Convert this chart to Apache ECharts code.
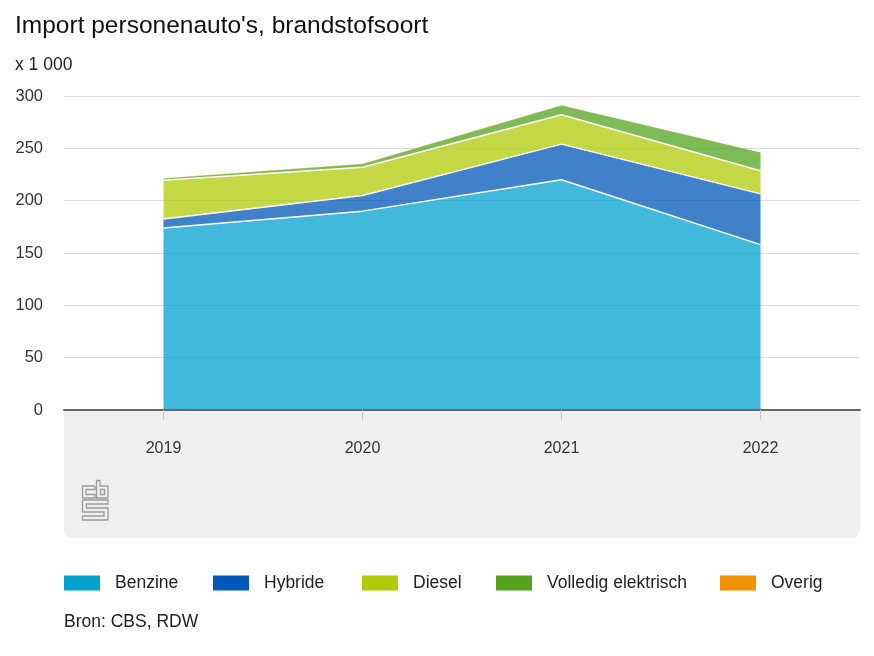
<!DOCTYPE html>
<html>
<head>
<meta charset="utf-8">
<script src="https://cdn.jsdelivr.net/npm/echarts@6/dist/echarts.min.js"></script>
<style>html,body{margin:0;padding:0;background:#fff}#c{width:874px;height:656px}</style>
</head>
<body>
<div id="c"></div>
<script>
const years = ['2019', '2020', '2021', '2022'];
const benzine = [174, 190, 220, 158];
const hybride = [8.5, 15, 34, 48.5];
const diesel = [37, 27, 28, 22];
const elektrisch = [1.7, 3, 9, 17.5];
const overig = [0.2, 0.2, 0.2, 0.3];
const yTicks = [0, 50, 100, 150, 200, 250, 300];

const font = 'Liberation Sans, Arial, sans-serif';
const names = ['Benzine', 'Hybride', 'Diesel', 'Volledig elektrisch', 'Overig'];
const colors = ['#00a1cd', '#0058b8', '#afcb05', '#53a31d', '#f39200'];
const datas = [benzine, hybride, diesel, elektrisch, overig];
const legendLeft = [59, 208, 357, 491, 715];

const chart = echarts.init(document.getElementById('c'), null, {renderer: 'canvas'});
const series = names.map((n, i) => ({
  name: n,
  type: 'line',
  stack: 'total',
  data: datas[i],
  showSymbol: false,
  symbol: 'none',
  color: colors[i],
  lineStyle: {color: '#ffffff', width: i < 3 ? 1.5 : 0},
  areaStyle: {color: colors[i], opacity: 0.75},
  z: 3
}));

chart.setOption({
  animation: false,
  textStyle: {fontFamily: font},
  title: [
    {text: "Import personenauto's, brandstofsoort", left: 10, top: 9,
     textStyle: {fontSize: 24.5, fontWeight: 'normal', color: '#111', fontFamily: font}},
    {text: 'x 1 000', left: 10, top: 51,
     textStyle: {fontSize: 17.5, fontWeight: 'normal', color: '#222', fontFamily: font}},
    {text: 'Bron: CBS, RDW', left: 59, top: 608,
     textStyle: {fontSize: 17.5, fontWeight: 'normal', color: '#222', fontFamily: font}}
  ],
  legend: names.map((n, i) => ({
    data: [n], left: legendLeft[i], top: 569, icon: 'rect',
    itemWidth: 36, itemHeight: 15, selectedMode: false,
    textStyle: {fontSize: 17.5, color: '#222', fontFamily: font, padding: [0, 0, 0, 10]}
  })),
  grid: {left: 64, right: 14, top: 96, bottom: 246, containLabel: false},
  graphic: [
    {type: 'rect', z: -10, shape: {x: 64, y: 410, width: 796, height: 128, r: [0, 0, 8, 8]},
     style: {fill: '#efefef'}},
    {type: 'group', z: 10, children: [
      {type: 'polyline', shape: {points: [[95, 486], [82.5, 486], [82.5, 498], [95, 498], [95, 494.5], [86, 494.5], [86, 489.5], [95, 489.5], [95, 486]]},
       style: {fill: null, stroke: '#9a9a9a', lineWidth: 1.3}},
      {type: 'polyline', shape: {points: [[96.5, 480.5], [100, 480.5], [100, 486], [108, 486], [108, 498], [96.5, 498], [96.5, 480.5]]},
       style: {fill: null, stroke: '#9a9a9a', lineWidth: 1.3}},
      {type: 'rect', shape: {x: 100.5, y: 489.5, width: 4, height: 5},
       style: {fill: null, stroke: '#9a9a9a', lineWidth: 1.3}},
      {type: 'polyline', shape: {points: [[82.5, 500], [108, 500], [108, 504], [86.5, 504], [86.5, 508], [108, 508], [108, 520], [82.5, 520], [82.5, 516], [104, 516], [104, 512], [82.5, 512], [82.5, 500]]},
       style: {fill: null, stroke: '#9a9a9a', lineWidth: 1.3}}
    ]}
  ],
  xAxis: {
    type: 'category', data: years, boundaryGap: true,
    axisLine: {lineStyle: {color: '#666', width: 2}},
    axisTick: {show: true, alignWithLabel: true, length: 10, lineStyle: {color: '#c8c8c8'}},
    axisLabel: {fontSize: 16, color: '#333', margin: 31, fontFamily: font},
    z: 5
  },
  yAxis: {
    type: 'value', min: 0, max: 300, interval: 50,
    axisLine: {show: false}, axisTick: {show: false},
    axisLabel: {fontSize: 16.5, color: '#333', margin: 21, fontFamily: font,
      formatter: v => yTicks.includes(v) ? String(v) : ''},
    splitLine: {lineStyle: {color: '#dcdcdc', width: 1}}
  },
  series: series
});
</script>
</body>
</html>
